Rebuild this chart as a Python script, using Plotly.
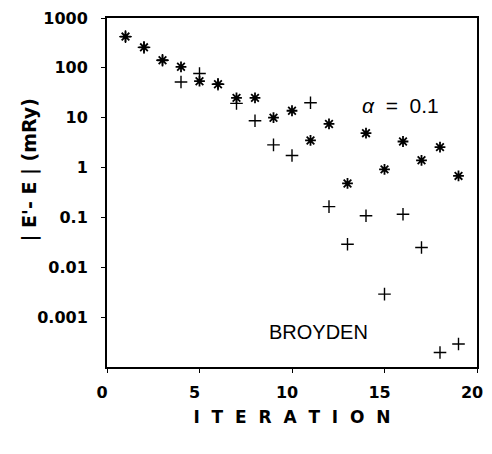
import plotly.graph_objects as go

iter_star = [1, 2, 3, 4, 5, 6, 7, 8, 9, 10, 11, 12, 13, 14, 15, 16, 17, 18, 19]
err_star = [424, 258, 142, 105, 54, 47, 25, 25, 10, 13.8, 3.5, 7.5, 0.48, 4.9, 0.92, 3.33, 1.4, 2.57, 0.68]

iter_plus = [1, 2, 3, 4, 5, 6, 7, 8, 9, 10, 11, 12, 13, 14, 15, 16, 17, 18, 19]
err_plus = [424, 258, 142, 52, 77, 47, 19.4, 8.7, 2.85, 1.75, 20, 0.165, 0.029, 0.108, 0.0029, 0.116, 0.025, 0.000195, 0.00029]

x_ticks = [0, 5, 10, 15, 20]
y_tickvals = [1000, 100, 10, 1, 0.1, 0.01, 0.001]
y_ticktext = ["1000", "100", "10", "1", "0.1", "0.01", "0.001"]

fig = go.Figure()
fig.add_trace(go.Scatter(
    x=iter_plus, y=err_plus, mode="markers",
    marker=dict(symbol="cross-thin-open", size=9, color="black",
                line=dict(color="black", width=1.4)),
    showlegend=False))
fig.add_trace(go.Scatter(
    x=iter_star, y=err_star, mode="markers",
    marker=dict(symbol="asterisk-open", size=9, color="black",
                line=dict(color="black", width=1.8)),
    showlegend=False))

tickfont = dict(family="DejaVu Sans", size=16, color="black", weight="bold")

fig.update_layout(
    width=492, height=454,
    margin=dict(l=107, r=9, t=14, b=87),
    paper_bgcolor="white", plot_bgcolor="white",
    xaxis=dict(range=[0, 20], tickvals=x_ticks, ticks="outside", ticklen=4,
               tickwidth=1, tickcolor="black", showgrid=False, zeroline=False,
               showline=True, linecolor="black", linewidth=2, mirror=True,
               tickfont=tickfont, ticklabelstandoff=6, ticklabelshift=-5,
               title=dict(text="I\u00a0\u00a0T\u00a0\u00a0E\u00a0\u00a0R\u00a0\u00a0A\u00a0\u00a0T\u00a0\u00a0I\u00a0\u00a0O\u00a0\u00a0N",
                          font=dict(family="DejaVu Sans", size=17, color="black", weight="bold"),
                          standoff=10)),
    yaxis=dict(type="log", range=[-4, 3], tickvals=y_tickvals, ticktext=y_ticktext,
               ticks="outside", ticklen=4, tickwidth=1, tickcolor="black",
               showgrid=False, zeroline=False, showline=True, linecolor="black",
               linewidth=2, mirror=True, tickfont=tickfont, ticklabelstandoff=10),
    annotations=[
        dict(text="| E'- E | (mRy)", xref="paper", yref="paper", x=-0.21, y=0.564,
             textangle=-90, showarrow=False, xanchor="center", yanchor="middle",
             font=dict(family="DejaVu Sans", size=19, color="black", weight="bold")),
        dict(text="<i>α</i>\u00a0 =\u00a0 0.1", x=15.85, y=1.24, xref="x", yref="y",
             showarrow=False, xanchor="center", yanchor="middle",
             font=dict(family="Liberation Sans", size=21, color="black")),
        dict(text="BROYDEN", x=11.44, y=-3.30, xref="x", yref="y",
             showarrow=False, xanchor="center", yanchor="middle",
             font=dict(family="Liberation Sans", size=20, color="black")),
    ],
)

fig.write_html("out.html")
